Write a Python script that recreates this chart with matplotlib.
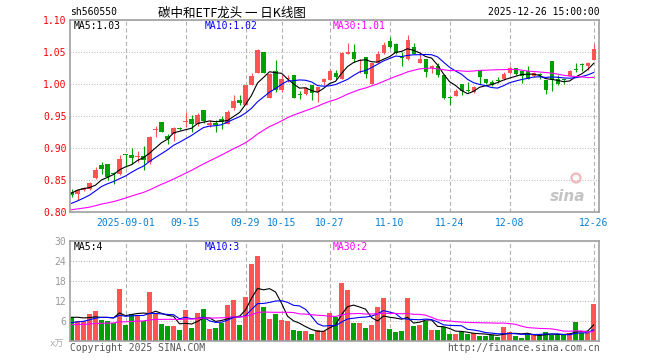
"""daily k-line chart of 560550, sina style"""
import matplotlib
matplotlib.use("Agg")
import matplotlib.pyplot as plt
from matplotlib.patches import Circle
import pandas as pd

W, H = 660, 360
RED = "#ff5454"
GREEN = "#00a000"
GRID = "#b0b0b0"
FRAME = "#a0a0a0"

# earlier sessions, only needed so the moving averages start where they should
hist_close = [0.796, 0.799, 0.802, 0.797, 0.794, 0.798, 0.801, 0.803, 0.799, 0.796,
              0.798, 0.800, 0.802, 0.797, 0.795, 0.798, 0.800, 0.799, 0.803, 0.803,
              0.797, 0.795, 0.799, 0.800, 0.799, 0.812, 0.826, 0.838, 0.847]
hist_vol = [4.2, 5.1, 3.8, 4.6, 4.9, 3.9, 4.4, 5.3, 4.1, 4.7,
            4.0, 4.8, 5.0, 4.3, 4.6, 3.7, 4.5, 4.9, 4.4, 4.8,
            3.5, 4.2, 3.6, 3.9, 3.8, 5.8, 6.9, 7.6, 7.7]

open_ = [.832, .828, .835, .837, .853, .874, .875, .862, .860, .891,
         .890, .886, .888, .879, .929, .941, .920, .923, .932, .941,
         .946, .9375, .960, .9365, .940, .946, .938, .9625, .9755, .968,
         .999, 1.017, 1.050, .979, 1.021, .991, 1.008, 1.0146, .984, .985,
         .999, .9885, 1.003, 1.007, 1.017, 1.009, 1.048, 1.050, 1.037, 1.042,
         1.000, 1.034, 1.049, 1.068, 1.063, 1.042, 1.039, 1.059, 1.034, 1.039,
         1.026, 1.029, 1.0146, .980, .982, 1.0005, .991, .9885, 1.023, 1.009,
         1.004, 1.007, 1.008, 1.017, 1.025, 1.021, 1.021, 1.0135, 1.016, 1.007,
         1.036, 1.009, 1.008, 1.0135, 1.024, 1.031, 1.029, 1.038]
high = [.836, .836, .840, .848, .871, .879, .875, .863, .890, .891,
        .900, .896, .904, .919, .935, .941, .922, .933, .934, .957,
        .952, .955, .960, .944, .944, .950, .960, .983, .983, .999,
        1.017, 1.055, 1.050, 1.017, 1.038, 1.014, 1.014, 1.0146, .990, .996,
        .999, .996, 1.010, 1.024, 1.022, 1.050, 1.064, 1.063, 1.039, 1.042,
        1.034, 1.052, 1.066, 1.074, 1.064, 1.050, 1.077, 1.064, 1.050, 1.039,
        1.030, 1.033, 1.0146, .982, .992, 1.0005, 1.004, .997, 1.023, 1.009,
        1.006, 1.011, 1.019, 1.028, 1.026, 1.021, 1.028, 1.019, 1.017, 1.007,
        1.036, 1.014, 1.010, 1.023, 1.034, 1.033, 1.035, 1.063]
low = [.824, .820, .833, .835, .852, .860, .851, .844, .858, .871,
       .876, .878, .866, .876, .917, .926, .907, .912, .928, .934,
       .926, .935, .939, .934, .926, .930, .938, .960, .968, .968,
       .999, 1.017, 1.017, .978, .988, .988, 1.003, .978, .977, .984,
       .976, .973, .999, 1.006, 1.008, 1.009, 1.047, 1.035, 1.017, 1.010,
       1.000, 1.033, 1.047, 1.056, 1.047, 1.028, 1.038, 1.047, 1.033, 1.012,
       1.017, 1.012, .977, .968, .981, .984, .988, .987, 1.001, 1.000,
       .997, 1.002, 1.007, 1.016, 1.0146, 1.0026, 1.008, 1.012, 1.008, .985,
       .990, .999, 1.001, 1.013, 1.020, 1.021, 1.022, 1.038]
close = [.827, .835, .838, .846, .866, .868, .855, .860, .883, .889,
         .885, .888, .882, .918, .930, .926, .915, .931, .931, .942,
         .9375, .952, .942, .940, .9365, .941, .957, .974, .971, .999,
         1.013, 1.0536, 1.017, 1.0156, .991, 1.009, 1.009, .978, .983, .994,
         .987, .996, 1.008, 1.021, 1.011, 1.049, 1.050, 1.039, 1.038, 1.016,
         1.033, 1.048, 1.061, 1.058, 1.049, 1.041, 1.069, 1.048, 1.039, 1.020,
         1.029, 1.0146, .978, .979, .990, .9896, .990, .9964, 1.011, 1.0015,
         .999, 1.006, 1.016, 1.026, 1.0156, 1.013, 1.008, 1.017, 1.0156, .991,
         1.007, 1.000, 1.007, 1.021, 1.023, 1.030, 1.034, 1.055]
# volume in 万
volume = [7.0, 6.0, 5.9, 8.0, 8.9, 6.2, 5.9, 5.2, 15.5, 4.7,
          8.0, 7.4, 5.9, 14.5, 8.4, 4.9, 4.4, 4.4, 3.2, 9.2,
          3.8, 8.3, 9.5, 3.5, 3.8, 5.3, 10.7, 12.2, 4.7, 13.1,
          23.0, 25.4, 10.1, 6.5, 8.0, 6.2, 5.9, 3.2, 2.9, 2.9,
          2.0, 3.2, 3.0, 8.2, 7.2, 17.4, 15.2, 5.4, 5.4, 3.9,
          4.7, 10.2, 12.9, 3.5, 2.7, 3.0, 12.9, 4.4, 4.7, 5.9,
          3.2, 3.2, 4.0, 2.0, 2.0, 2.7, 2.0, 2.4, 1.4, 1.4,
          1.7, 1.2, 4.0, 2.7, 1.4, 0.9, 2.2, 1.7, 1.7, 2.6,
          1.7, 1.7, 1.7, 2.3, 5.6, 2.2, 2.5, 11.0]

tick_dates = ["2025-09-01", "2025-09-15", "2025-09-29", "2025-10-15", "2025-10-27",
              "2025-11-10", "2025-11-24", "2025-12-08", "2025-12-26"]
price_ticks = [0.80, 0.85, 0.90, 0.95, 1.00, 1.05, 1.10]
vol_ticks = [6, 12, 18, 24, 30]
MA_COLORS = {5: "black", 10: "#0000ff", 30: "#ff00ff"}


def trading_days():
    """weekdays minus the national day holiday"""
    days = pd.bdate_range("2025-08-19", "2025-12-26")
    days = [d for d in days
            if not pd.Timestamp("2025-10-01") <= d <= pd.Timestamp("2025-10-08")]
    return [d.strftime("%Y-%m-%d") for d in days]


def moving(hist, values, n):
    s = pd.Series(hist + values).rolling(n).mean()
    return s.iloc[len(hist):].tolist()


def fx(px):
    return px / W


def fy(py):
    return 1 - py / H


def style_axes(ax, ticks_x):
    for sp in ax.spines.values():
        sp.set_color(FRAME)
        sp.set_linewidth(1.2)
    ax.set_xticks(ticks_x)
    ax.grid(axis="y", color=GRID, linewidth=0.8, linestyle=(0, (0.8, 1.6)))
    ax.grid(axis="x", color=GRID, linewidth=0.8, linestyle=(0, (3.6, 2.4)))
    ax.set_axisbelow(True)
    ax.tick_params(length=0)


def plot():
    days = trading_days()
    x = list(range(len(close)))
    tick_x = [days.index(d) for d in tick_dates]
    tick_lbl = [tick_dates[0]] + [d[5:] for d in tick_dates[1:]]
    colors = [RED if c >= o else GREEN for o, c in zip(open_, close)]

    plt.rcParams["font.family"] = ["DejaVu Sans Mono", "Noto Sans CJK SC"]
    fig = plt.figure(figsize=(W / 100, H / 100), dpi=100)
    left, width = fx(70), fx(529)
    ax = fig.add_axes([left, fy(212.3), width, (212.3 - 20.3) / H])
    axv = fig.add_axes([left, fy(340.7), width, 100 / H], sharex=ax)

    # candles
    ax.vlines(x, low, high, colors=colors, linewidth=0.8)
    bottoms, heights = [], []
    for o, c in zip(open_, close):
        lo, hi = min(o, c), max(o, c)
        if hi - lo < 0.0012:
            mid = (lo + hi) / 2
            lo, hi = mid - 0.0006, mid + 0.0006
        bottoms.append(lo)
        heights.append(hi - lo)
    ax.bar(x, heights, bottom=bottoms, width=0.68, color=colors, linewidth=0)

    for n, col in MA_COLORS.items():
        ax.plot(x, moving(hist_close, close, n), color=col, linewidth=0.8)
        axv.plot(x, moving(hist_vol, volume, n), color=col, linewidth=0.8)

    axv.bar(x, volume, width=0.78, color=colors, linewidth=0)

    ax.set_xlim(-0.25, 87.9)
    ax.set_ylim(0.80, 1.10)
    axv.set_ylim(0, 30)
    style_axes(ax, tick_x)
    style_axes(axv, tick_x)

    ax.set_yticks(price_ticks)
    ax.set_yticklabels([f"{v:.2f}" for v in price_ticks], color="red", fontsize=7)
    ax.set_xticklabels(tick_lbl, color="#0a7fd4", fontsize=7)
    ax.tick_params(axis="x", pad=4)
    ax.tick_params(axis="y", pad=2.5)
    axv.set_yticks(vol_ticks)
    axv.set_yticklabels([str(v) for v in vol_ticks], color="#999999", fontsize=7)
    axv.tick_params(axis="y", pad=2.5)
    axv.tick_params(axis="x", labelbottom=False)

    # legends in the top corner of each panel
    last_p = {n: moving(hist_close, close, n)[-1] for n in MA_COLORS}
    last_v = {n: moving(hist_vol, volume, n)[-1] for n in MA_COLORS}
    for n, px in zip(MA_COLORS, [74, 205, 333]):
        ax.text((px - 70) / 529, 0.995, f"MA{n}:{last_p[n]:.2f}", transform=ax.transAxes,
                color=MA_COLORS[n], fontsize=7, va="top")
        axv.text((px - 70) / 529, 0.99, f"MA{n}:{int(last_v[n])}", transform=axv.transAxes,
                 color=MA_COLORS[n], fontsize=7, va="top")

    # watermark
    ax.text(0.975, 0.06, "sina", transform=ax.transAxes, color="#c4c4c4",
            fontsize=11, fontweight="bold", style="italic", ha="right", family="DejaVu Sans")
    fig.patches.append(Circle((5.76, 3.60 - 1.78), 0.045, transform=fig.dpi_scale_trans,
                              fill=False, edgecolor="#f0b8b8", linewidth=1.6))

    fig.text(fx(70), fy(12), "sh560550", fontsize=7, va="center")
    fig.text(fx(232), fy(13), "碳中和ETF龙头 一 日K线图", fontsize=9,
             ha="center", va="center", family=["Noto Sans CJK SC", "DejaVu Sans"])
    fig.text(fx(600), fy(12), days[-1] + " 15:00:00", fontsize=7, ha="right", va="center")
    fig.text(fx(57), fy(344), "x万", fontsize=6.5, color="#aaaaaa", ha="center", va="center")
    fig.text(fx(70), fy(348), "Copyright 2025 SINA.COM", fontsize=7, color="#555555", va="center")
    fig.text(fx(600), fy(348), "http://finance.sina.com.cn", fontsize=7,
             color="#555555", ha="right", va="center")

    fig.savefig("out.png", dpi=100)


plot()
